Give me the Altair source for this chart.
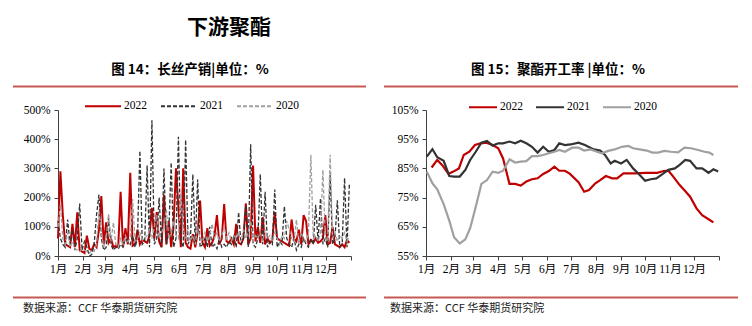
import altair as alt
import pandas as pd

# ---------------- data ----------------
MONTH_DAYS = [0, 31, 59, 90, 120, 151, 181, 212, 243, 273, 304, 334, 365]
YEARS = ["2022", "2021", "2020"]

# Left chart: 长丝产销 (%), sampled every 3 days of the year
L_DAYS = list(range(0, 364, 3))
L_2022 = [60, 290, 140, 40, 35, 30, 110, 30, 150, 20,
          15, 10, 70, 25, 20, 40, 30, 90, 205, 40,
          115, 45, 60, 30, 35, 30, 220, 30, 95, 40,
          285, 35, 40, 90, 40, 55, 50, 45, 70, 165,
          60, 150, 50, 30, 210, 40, 120, 30, 110, 300,
          165, 30, 300, 45, 30, 25, 75, 30, 80, 190,
          45, 30, 95, 35, 45, 70, 140, 40, 60, 178,
          50, 45, 60, 40, 110, 45, 40, 60, 180, 40,
          60, 310, 50, 100, 45, 133, 40, 60, 45, 55,
          150, 60, 55, 50, 45, 40, 35, 125, 60, 50,
          90, 40, 140, 120, 40, 55, 45, 60, 45, 50,
          60, 140, 40, 45, 100, 40, 35, 30, 40, 30,
          55, 45]
L_2021 = [120, 60, 40, 30, 125, 40, 90, 20, 60, 180,
          20, 50, 30, 0, 5, 40, 140, 210, 60, 20,
          30, 130, 40, 20, 30, 25, 40, 30, 60, 50,
          40, 70, 30, 60, 360, 40, 50, 310, 30, 465,
          40, 60, 200, 30, 300, 40, 80, 320, 30, 60,
          408, 50, 30, 398, 40, 60, 280, 40, 262, 30,
          40, 60, 30, 100, 30, 40, 25, 60, 30, 40,
          30, 50, 40, 70, 30, 150, 40, 60, 175, 30,
          383, 40, 30, 60, 280, 40, 220, 30, 50, 40,
          228, 30, 50, 40, 170, 60, 40, 30, 60, 20,
          40, 30, 60, 40, 30, 60, 40, 175, 50, 198,
          40, 60, 30, 278, 40, 60, 191, 30, 40, 267,
          30, 250]
L_2020 = [100, 175, 60, 40, 80, 30, 50, 25, 20, 15,
          25, 20, 15, 10, 20, 15, 40, 155, 80, 30,
          60, 145, 50, 115, 40, 30, 60, 40, 70, 50,
          60, 195, 50, 60, 80, 55, 60, 70, 90, 60,
          100, 140, 60, 80, 100, 160, 60, 80, 120, 70,
          60, 215, 90, 60, 100, 50, 70, 40, 100, 60,
          50, 80, 50, 70, 110, 60, 80, 50, 70, 100,
          60, 80, 50, 70, 60, 80, 50, 90, 60, 80,
          120, 50, 70, 60, 80, 50, 90, 60, 70, 50,
          80, 60, 40, 70, 60, 120, 90, 60, 50, 125,
          40, 80, 60, 50, 80, 347, 60, 70, 50, 80,
          295, 60, 50, 347, 60, 80, 50, 70, 60, 80,
          50, 70]

# Right chart: 聚酯开工率 (%), weekly
R_DAYS_2022 = [7, 14, 20, 28, 34, 41, 47, 54, 61, 68, 75, 83, 90, 96, 104, 111, 118,
               125, 132, 139, 146, 153, 160, 166, 173, 179, 190, 197, 203, 211, 217,
               224, 232, 238, 246, 253, 261, 267, 273, 281, 288, 296, 302, 308, 316,
               322, 329, 337, 344, 352, 358]
R_2022 = [85.3, 87.9, 86.2, 83.1, 83.9, 85.0, 89.6, 90.7, 93.0, 93.6, 93.8, 93.0,
          91.9, 88.4, 79.7, 79.7, 79.1, 80.5, 81.3, 81.6, 83.1, 84.1, 85.6, 84.2,
          84.2, 83.2, 80.3, 77.0, 77.6, 79.9, 81.0, 82.4, 81.6, 81.6, 83.3, 83.3,
          83.3, 83.4, 83.5, 83.5, 83.5, 84.1, 84.2, 82.2, 79.3, 77.5, 75.3, 71.3,
          69.0, 67.6, 66.5]
R_DAYS_2021 = [1, 8, 14, 22, 29, 35, 42, 49, 55, 62, 69, 76, 83, 90, 96, 104, 111,
               118, 125, 132, 139, 146, 153, 160, 166, 173, 180, 190, 198, 209, 217,
               223, 230, 235, 243, 250, 258, 265, 273, 280, 287, 295, 302, 310, 316,
               323, 329, 337, 344, 352, 358, 364]
R_2021 = [89.0, 91.6, 88.8, 87.6, 82.4, 82.2, 82.2, 84.5, 87.9, 90.7, 93.8, 94.4,
          92.8, 93.6, 93.6, 94.2, 93.6, 94.5, 93.6, 92.4, 90.4, 92.4, 90.7, 91.3,
          93.6, 93.0, 93.2, 93.8, 93.0, 91.5, 91.1, 89.6, 86.7, 87.6, 86.7, 87.9,
          85.0, 83.1, 80.8, 81.3, 81.6, 83.1, 84.5, 85.0, 86.2, 87.9, 87.6, 85.0,
          85.0, 83.5, 84.7, 83.9]
R_DAYS_2020 = [1, 8, 14, 22, 29, 35, 42, 49, 55, 62, 69, 76, 83, 90, 96, 104, 111,
               118, 125, 132, 139, 146, 153, 160, 166, 173, 182, 190, 197, 205, 213,
               219, 227, 235, 244, 252, 258, 266, 275, 282, 289, 297, 305, 314, 322,
               330, 339, 347, 353, 358]
R_2020 = [83.9, 79.9, 77.8, 72.8, 67.1, 61.4, 59.3, 60.7, 64.5, 71.9, 79.7, 81.0,
          83.9, 83.5, 84.2, 88.1, 87.0, 87.3, 87.5, 89.2, 89.2, 89.6, 90.2, 90.7,
          91.3, 90.7, 92.1, 92.1, 91.1, 91.5, 90.7, 90.2, 91.0, 91.5, 92.4, 92.7,
          91.9, 91.5, 91.1, 90.4, 90.4, 91.0, 90.7, 90.5, 92.1, 91.9, 91.3, 90.7,
          90.4, 89.6]

MAIN_TITLE = "下游聚酯"
LEFT_TITLE = "图 14：长丝产销|单位：%"
RIGHT_TITLE = "图 15：聚酯开工率 |单位：%"
SOURCE = "数据来源：CCF 华泰期货研究院"


def frame(days, vals, year):
    return pd.DataFrame({"day": days, "value": vals, "year": year})


left_df = pd.concat([frame(L_DAYS, L_2022, "2022"),
                     frame(L_DAYS, L_2021, "2021"),
                     frame(L_DAYS, L_2020, "2020")], ignore_index=True)
right_df = pd.concat([frame(R_DAYS_2022, R_2022, "2022"),
                      frame(R_DAYS_2021, R_2021, "2021"),
                      frame(R_DAYS_2020, R_2020, "2020")], ignore_index=True)

# ---------------- styling ----------------
SERIF = "Liberation Serif, Noto Sans CJK SC"
CJK = "Noto Sans CJK SC"
RULE_RED = "#c55a55"

md = ",".join(str(d) for d in MONTH_DAYS[:-1])
month_expr = (f"indexof([{md}], datum.value) >= 0 ? "
              f"(indexof([{md}], datum.value) + 1) + '月' : ''")

W, H = 293, 146


def x_enc():
    return alt.X("day:Q", scale=alt.Scale(domain=[0, 365], nice=False, zero=False),
                 axis=alt.Axis(values=MONTH_DAYS, labelExpr=month_expr, title=None,
                               labelPadding=3, labelFlush=False, labelOverlap=False))


def y_enc(lo, hi, step):
    vals = list(range(lo, hi + 1, step))
    return alt.Y("value:Q", scale=alt.Scale(domain=[lo, hi], nice=False, zero=False),
                 axis=alt.Axis(values=vals, labelExpr="datum.value + '%'", title=None,
                               labelPadding=4))


def panel(df, ylo, yhi, ystep, colors, dashes, widths, leg_x, leg_y, sym_size, col_pad,
          title_text, rule_x1, rule_x2, foot_x, main=False):
    legend = alt.Legend(orient="none", legendX=leg_x, legendY=leg_y, direction="horizontal",
                        title=None, symbolType="stroke", symbolSize=sym_size,
                        symbolStrokeWidth=2, labelFont=SERIF, labelFontSize=11.5,
                        labelColor="#000", labelOffset=2, columnPadding=col_pad, padding=0)
    color = alt.Color("year:N", scale=alt.Scale(domain=YEARS, range=colors), legend=legend)
    enc = {"color": color}
    if dashes is not None:
        enc["strokeDash"] = alt.StrokeDash("year:N", scale=alt.Scale(domain=YEARS, range=dashes),
                                           legend=legend)
    layers = []
    for yr, w in zip(YEARS, widths):
        layers.append(
            alt.Chart(df).transform_filter(alt.datum.year == yr)
            .mark_line(strokeWidth=w)
            .encode(x=x_enc(), y=y_enc(ylo, yhi, ystep), **enc)
        )
    one = pd.DataFrame({"t": [0]})
    layers.append(alt.Chart(one).mark_text(text=title_text, font=CJK, fontSize=13.5,
                                           fontWeight="bold", color="#000", align="center",
                                           baseline="middle")
                  .encode(x=alt.value(132), y=alt.value(-40.5)))
    for yy in (-23.5, 187.5):
        layers.append(alt.Chart(one).mark_rule(color=RULE_RED, strokeWidth=2)
                      .encode(x=alt.value(rule_x1), x2=alt.value(rule_x2), y=alt.value(yy)))
    layers.append(alt.Chart(one).mark_text(text=SOURCE, font=CJK, fontSize=11,
                                           color="#222", align="left", baseline="middle")
                  .encode(x=alt.value(foot_x), y=alt.value(198.5)))
    if main:
        layers.append(alt.Chart(one).mark_text(text=MAIN_TITLE, font=CJK, fontSize=21,
                                               fontWeight="bold", color="#000",
                                               align="center", baseline="middle")
                      .encode(x=alt.value(171), y=alt.value(-82.5)))
    return alt.layer(*layers).properties(width=W, height=H)


left = panel(left_df, 0, 500, 100,
             ["#c00000", "#333333", "#a0a0a0"], [[1, 0], [4, 2], [4, 2]], [2, 1.3, 1.3],
             26, -23, 1296, 10, LEFT_TITLE, -45, 308, -35, main=True)
right = panel(right_df, 55, 105, 10,
              ["#c00000", "#333333", "#a0a0a0"], None, [2.2, 2.2, 2.2],
              42, -18, 784, 9, RIGHT_TITLE, -42, 312, -36)

chart = alt.hconcat(left, right, spacing=75, bounds="flush").resolve_scale(
    color="independent", strokeDash="independent"
).resolve_legend(
    color="independent", strokeDash="independent"
).properties(
    padding={"left": 12, "top": 16, "right": 0, "bottom": 0}
).configure_view(stroke=None).configure_axis(
    grid=False, labelFont=SERIF, labelFontSize=11.5, labelColor="#000",
    domainColor="#404040", tickColor="#404040", tickSize=4, domainWidth=1, tickWidth=1
)

chart.save("out.html", embed_options={"renderer": "svg", "actions": False})
